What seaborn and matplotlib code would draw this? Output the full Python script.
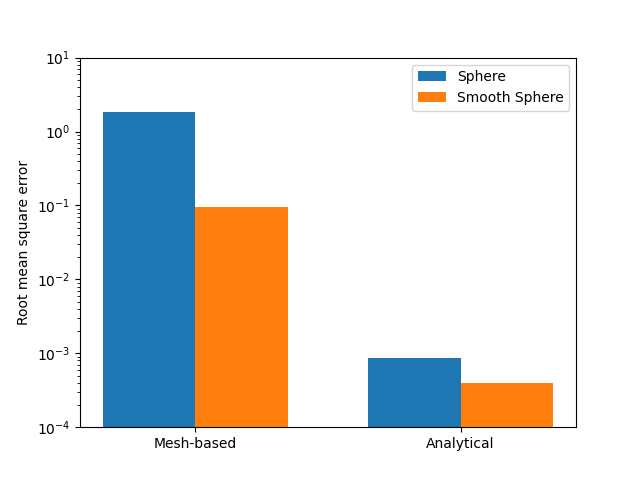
import matplotlib
matplotlib.use('Agg')
import matplotlib.pyplot as plt
import pandas as pd
import seaborn as sns

methods = ['Mesh-based', 'Analytical']
sphere_rmse = [1.85, 8.7e-4]
smooth_sphere_rmse = [0.095, 4.0e-4]

df = pd.DataFrame({
    'method': methods * 2,
    'rmse': sphere_rmse + smooth_sphere_rmse,
    'shape': ['Sphere'] * 2 + ['Smooth Sphere'] * 2,
})

fig, ax = plt.subplots(figsize=(6.4, 4.8), dpi=100)
sns.barplot(data=df, x='method', y='rmse', hue='shape', order=methods,
            hue_order=['Sphere', 'Smooth Sphere'], palette=['#1f77b4', '#ff7f0e'],
            saturation=1, width=0.7, gap=0, errorbar=None, ax=ax)
ax.set_yscale('log')
ax.set_ylim(1e-4, 1e1)
ax.set_xlim(-0.435, 1.435)
ax.set_xlabel('')
ax.set_ylabel('Root mean square error')
ax.legend(loc='upper right')

plt.savefig('out.png', dpi=100)
